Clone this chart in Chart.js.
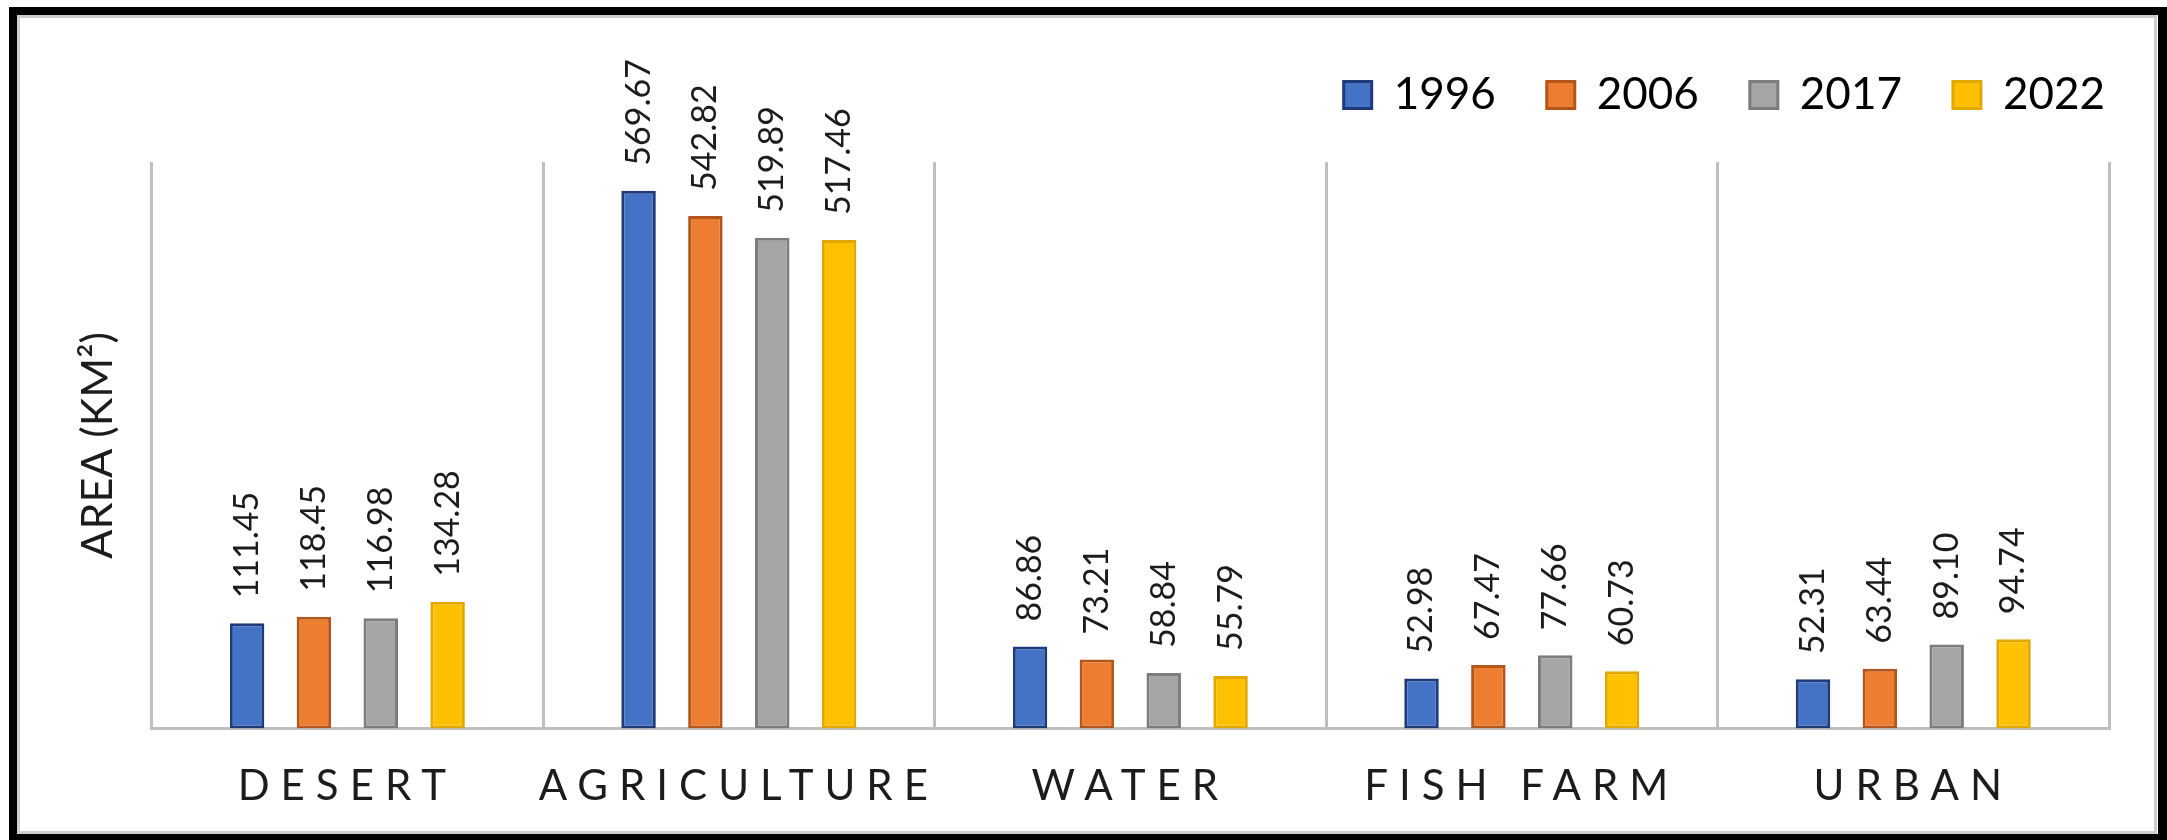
<!DOCTYPE html>
<html>
<head>
<meta charset="utf-8">
<title>Land cover area by class, 1996–2022</title>
<script src="https://cdn.jsdelivr.net/npm/chart.js@4.4.0/dist/chart.umd.min.js"></script>
<style>
  html, body { margin: 0; padding: 0; background: #ffffff; overflow: hidden; }
  canvas { display: block; }
</style>
</head>
<body>
<canvas id="landCover" width="2167" height="840"></canvas>
<script>
// Land-cover classes and their area (km²) in each survey year
const categories = ['DESERT', 'AGRICULTURE', 'WATER', 'FISH FARM', 'URBAN'];
const years = ['1996', '2006', '2017', '2022'];
const area1996 = [111.45, 569.67, 86.86, 52.98, 52.31];
const area2006 = [118.45, 542.82, 73.21, 67.47, 63.44];
const area2017 = [116.98, 519.89, 58.84, 77.66, 89.10];
const area2022 = [134.28, 517.46, 55.79, 60.73, 94.74];
const yAxisMin = 0;
const yAxisMax = 600;
const yAxisTitle = 'AREA (KM²)';

// Office-style palette: fill plus a darker edge for each year
const fillColors = ['#4472c4', '#ed7d31', '#a5a5a5', '#ffc000'];
const edgeColors = ['#1f3a78', '#b4561b', '#7c7c7c', '#e0a800'];

const FONT = 'Lato, "Open Sans", "DejaVu Sans", sans-serif';
const TEXT = '#1c1c1c';

// White page background and the black/grey picture frame
const framePlugin = {
  id: 'frame',
  beforeDraw(chart) {
    const { ctx, width, height } = chart;
    ctx.save();
    ctx.fillStyle = '#ffffff';
    ctx.fillRect(0, 0, width, height);
    ctx.restore();
  },
  afterDraw(chart) {
    const { ctx, width, height } = chart;
    ctx.save();
    ctx.fillStyle = '#000000';
    ctx.fillRect(9, 7, width - 9, 8);
    ctx.fillRect(9, 7, 8, height - 7);
    ctx.fillRect(width - 9, 7, 9, height - 7);
    ctx.fillRect(9, height - 6, width - 9, 6);
    ctx.strokeStyle = '#cdcdcd';
    ctx.lineWidth = 3;
    ctx.strokeRect(18.5, 16.5, width - 11.5 - 18.5, height - 7.5 - 16.5);
    ctx.restore();
  }
};

// Extra room under the legend, and legend row pushed toward the right edge
const legendSpacing = {
  id: 'legendSpacing',
  beforeLayout(chart) {
    const legend = chart.legend;
    if (legend && !legend._extraSpace) {
      const fit = legend.fit;
      legend.fit = function () {
        fit.call(this);
        this.height += 35;
      };
      legend._extraSpace = true;
    }
  },
  afterLayout(chart) {
    if (chart.legend) {
      chart.legend.right = chart.width - 11;
    }
  }
};

// Wide letter spacing on the category labels
const spacedCategoryLabels = {
  id: 'spacedCategoryLabels',
  beforeDraw(chart) {
    const sx = chart.scales.x;
    if (sx && !sx._spaced) {
      const drawLabels = sx.drawLabels.bind(sx);
      sx.drawLabels = function (area) {
        const c = this.ctx;
        c.save();
        c.letterSpacing = '11px';
        drawLabels(area);
        c.restore();
      };
      sx._spaced = true;
    }
  }
};

// Vertical value labels above each bar
const barValueLabels = {
  id: 'barValueLabels',
  afterDatasetsDraw(chart) {
    const ctx = chart.ctx;
    ctx.save();
    ctx.font = '34px ' + FONT;
    ctx.fillStyle = TEXT;
    ctx.textAlign = 'left';
    ctx.textBaseline = 'middle';
    chart.data.datasets.forEach((ds, di) => {
      chart.getDatasetMeta(di).data.forEach((bar, i) => {
        ctx.save();
        ctx.translate(bar.x, bar.y - 25);
        ctx.rotate(-Math.PI / 2);
        ctx.fillText(ds.data[i].toFixed(2), 0, 0);
        ctx.restore();
      });
    });
    ctx.restore();
  }
};

const series = [area1996, area2006, area2017, area2022];

function drawChart() {
  new Chart(document.getElementById('landCover'), {
    type: 'bar',
    data: {
      labels: categories,
      datasets: years.map((year, k) => ({
        label: year,
        data: series[k],
        backgroundColor: fillColors[k],
        borderColor: edgeColors[k],
        borderWidth: 3,
        borderSkipped: false,
        categoryPercentage: 0.683,
        barPercentage: 0.516
      }))
    },
    options: {
      responsive: false,
      animation: false,
      devicePixelRatio: 1,
      layout: { padding: { left: 20, right: 58, top: 22, bottom: -5 } },
      plugins: {
        tooltip: { enabled: false },
        legend: {
          position: 'top',
          align: 'end',
          labels: {
            font: { family: FONT, size: 44 },
            color: '#000000',
            boxWidth: 28,
            boxHeight: 27,
            padding: 51
          }
        }
      },
      scales: {
        x: {
          grid: { display: true, offset: true, color: '#bfbfbf', lineWidth: 3, drawTicks: false },
          border: { display: true, color: '#bfbfbf', width: 3 },
          ticks: {
            font: { family: FONT, size: 42 },
            color: TEXT,
            padding: 33,
            maxRotation: 0,
            autoSkip: false
          }
        },
        y: {
          min: yAxisMin,
          max: yAxisMax,
          grid: { display: false, drawTicks: false },
          border: { display: false },
          ticks: { display: false },
          title: {
            display: true,
            text: yAxisTitle,
            font: { family: FONT, size: 43 },
            color: TEXT,
            padding: { top: 52, bottom: 28 }
          }
        }
      }
    },
    plugins: [framePlugin, legendSpacing, spacedCategoryLabels, barValueLabels]
  });
}

Promise.all([
  document.fonts.load('44px Lato'),
  document.fonts.load('34px Lato')
]).catch(() => {}).then(drawChart);
</script>
</body>
</html>
